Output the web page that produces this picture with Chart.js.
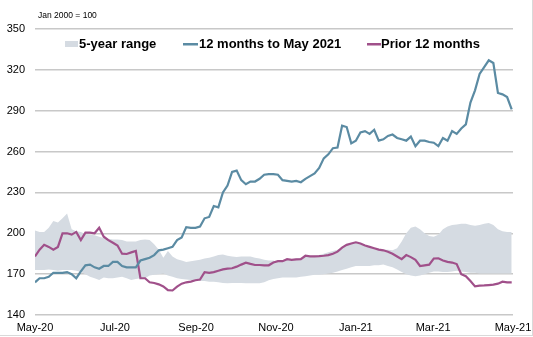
<!DOCTYPE html>
<html>
<head>
<meta charset="utf-8">
<script src="https://cdn.jsdelivr.net/npm/chart.js@4.4.1/dist/chart.umd.min.js"></script>
<style>
    body { margin: 0; background: #fff; }
    .wrapper {
        width: 532px;
        height: 335px;
        border-right: 1px solid #d9d9d9;
        border-bottom: 1px solid #d9d9d9;
    }
    canvas { display: block; }
</style>
</head>
<body>
<div class="wrapper">
    <canvas id="myChart" width="532" height="335"></canvas>
</div>
<script>
//---------------data (index, Jan 2000 = 100), one sample every 3.5 days from 1 May 2020
const tick_days = [0, 61, 123, 184, 245, 304, 365];
const tick_labels = ['May-20', 'Jul-20', 'Sep-20', 'Nov-20', 'Jan-21', 'Mar-21', 'May-21'];
const series_names = ['5-year range', '12 months to May 2021', 'Prior 12 months'];

const last_12 = [
    164, 167, 167, 168, 171, 171, 171, 171.5, 170, 167,
    172, 176.5, 177, 175, 174, 176, 176, 179, 179, 176,
    175, 175, 175, 180, 181, 182, 184, 187.5, 188, 189,
    190, 195, 197, 204.5, 204, 204, 205, 211, 212, 220,
    219, 230, 235, 245, 246, 239, 236, 238, 238, 240,
    243, 243.5, 243.5, 243, 239, 238.5, 238, 238.5, 237.5, 240,
    242, 244, 248, 255, 258, 262.5, 263, 279, 278, 266,
    268, 274, 275, 273, 276, 268, 269, 271.5, 272.5, 270,
    269, 268, 271, 264, 268, 268, 267, 266.5, 264, 270,
    268, 275, 273, 277, 280, 296, 305, 317, 322, 327,
    325, 303, 302, 300, 291,
];

const prior_12 = [
    183, 188, 191.5, 190, 188, 190, 200, 200, 199, 201,
    195, 200.5, 200.5, 200, 204, 197.5, 195, 193, 191, 185,
    184.8, 186, 187, 167, 167, 164, 163.5, 162.5, 161, 158.3,
    158, 160.8, 163, 164, 164.5, 165.5, 166, 171.5, 171, 171.5,
    172.5, 173.5, 174, 174.3, 175.5, 177, 178.4, 177.5, 176.7, 176.7,
    176.5, 176.5, 178.5, 179.5, 179.5, 181, 180.5, 180.8, 181, 183.5,
    183, 183, 183.2, 183.5, 184, 185, 186.5, 189.5, 191.5, 192.5,
    193.4, 192.5, 191, 190, 189, 188, 187.5, 186.5, 185, 183,
    181, 184, 182.5, 180.5, 176, 176.5, 177, 181.5, 181.6, 180,
    179, 178.5, 177.4, 170, 168.5, 165, 161, 161.5, 161.7, 162,
    162.3, 163, 164.5, 164, 164,
];

const range_high = [
    202, 201, 201, 204, 209, 208, 211, 214.5, 203, 201.5,
    201, 199.5, 199, 198.5, 197.5, 196.5, 196, 195.5, 195.5, 195,
    194, 194, 194, 195, 195.5, 195, 192, 188, 182, 187,
    183, 181, 180, 179, 179.5, 180, 180.5, 181.5, 182, 183,
    184, 184.5, 183.5, 183, 182.5, 183, 183, 183, 182, 181.5,
    180.5, 180, 180, 179, 180, 180.5, 181, 181.5, 182, 182.5,
    183, 183.5, 184, 185, 186, 187, 188, 189.5, 191, 192.5,
    193, 192, 190.5, 189.5, 189, 188.5, 188, 188, 187.5, 189,
    194, 200, 204, 205, 203, 200, 198, 197.5, 199, 203,
    205, 206, 206.5, 207, 207, 206, 205.5, 206, 207, 207.5,
    206, 203, 201.5, 201, 201,
];

const range_low = [
    173, 173, 173, 173.5, 173, 172.5, 173, 173, 173, 172.5,
    171.5, 170, 168, 167, 165.7, 167.5, 167, 167, 167.5, 168,
    167, 165.7, 166.5, 167, 167, 169, 169.5, 170, 170.5, 169,
    168, 167, 166.5, 166, 165.7, 165.5, 165, 165, 164.5, 164.5,
    164, 163.5, 163.3, 163.5, 163.5, 163.5, 163.3, 163.3, 163.3, 163.3,
    164, 165.5, 166.5, 167, 167.5, 167.5, 167.5, 167.5, 168, 168.5,
    169, 169.5, 169.5, 170, 170.5, 171, 172, 173, 174, 175,
    176, 176, 176, 176, 176.5, 176.5, 177, 176, 175, 173.5,
    171.5, 170, 169, 168.5, 169, 170, 171, 172, 172, 171.5,
    171.5, 172, 172.5, 172, 171.5, 171, 171, 170.5, 170.5, 170.5,
    170.5, 170.5, 170.5, 170.5, 170.5,
];

const colors = {
    band: '#d5dbe2',
    blue: '#5b8ba3',
    purple: '#a0508a',
};

function to_points(values) {
    return values.map((v, i) => ({ x: i * 3.5, y: v }));
}

//---------------legend drawn inside the plot, like the original
const inside_legend = {
    id: 'inside_legend',
    afterDraw(chart) {
        const ctx = chart.ctx;
        const y = 44;
        ctx.save();
        ctx.fillStyle = '#000';
        ctx.textBaseline = 'middle';
        ctx.font = '8.5px "Liberation Sans", Arial, sans-serif';
        ctx.fillText('Jan 2000 = 100', 38, 16);

        ctx.font = 'bold 13px "Liberation Sans", Arial, sans-serif';
        ctx.fillStyle = colors.band;
        ctx.fillRect(65, y - 3, 13, 6);
        ctx.fillStyle = '#000';
        ctx.fillText(series_names[0], 79, y);

        ctx.fillStyle = colors.blue;
        ctx.fillRect(183, y - 1, 15, 2.5);
        ctx.fillStyle = '#000';
        ctx.fillText(series_names[1], 199, y);

        ctx.fillStyle = colors.purple;
        ctx.fillRect(367, y - 1, 14, 2.5);
        ctx.fillStyle = '#000';
        ctx.fillText(series_names[2], 381, y);
        ctx.restore();
    }
};

const data = {
    datasets: [{
        label: series_names[1],
        data: to_points(last_12),
        borderColor: colors.blue,
        borderWidth: 2.2,
        pointRadius: 0,
        fill: false,
        order: 1,
    }, {
        label: series_names[2],
        data: to_points(prior_12),
        borderColor: colors.purple,
        borderWidth: 2.2,
        pointRadius: 0,
        fill: false,
        order: 2,
    }, {
        label: series_names[0],
        data: to_points(range_high),
        borderWidth: 0,
        borderColor: colors.band,
        backgroundColor: colors.band,
        pointRadius: 0,
        fill: '+1',
        order: 3,
    }, {
        label: 'range low',
        data: to_points(range_low),
        borderWidth: 0,
        borderColor: colors.band,
        pointRadius: 0,
        fill: false,
        order: 4,
    }]
};

const config = {
    type: 'line',
    data: data,
    options: {
        responsive: false,
        animation: false,
        layout: { padding: { top: 29, left: 7, right: 19, bottom: 0 } },
        plugins: {
            legend: { display: false },
            tooltip: { enabled: false },
        },
        scales: {
            x: {
                type: 'linear',
                min: 0,
                max: 365,
                afterBuildTicks: (axis) => {
                    axis.ticks = tick_days.map(d => ({ value: d }));
                },
                afterFit: (axis) => {
                    axis.height = 20;
                    axis.paddingLeft = 0;
                    axis.paddingRight = 0;
                },
                grid: { display: false, drawTicks: false },
                border: { display: false },
                ticks: {
                    autoSkip: false,
                    maxRotation: 0,
                    padding: 6,
                    color: '#000',
                    font: { family: '"Liberation Sans", Arial, sans-serif', size: 11 },
                    callback: (value) => tick_labels[tick_days.indexOf(value)],
                },
            },
            y: {
                min: 140,
                max: 350,
                afterFit: (axis) => {
                    axis.width = 28;
                },
                grid: {
                    color: '#c8c8c8',
                    lineWidth: 1.5,
                    drawTicks: false,
                },
                border: { display: false },
                ticks: {
                    stepSize: 30,
                    padding: 10,
                    color: '#000',
                    font: { family: '"Liberation Sans", Arial, sans-serif', size: 11 },
                },
            },
        },
    },
    plugins: [inside_legend],
};

const myChart = new Chart(
    document.getElementById('myChart'),
    config
);
</script>
</body>
</html>
